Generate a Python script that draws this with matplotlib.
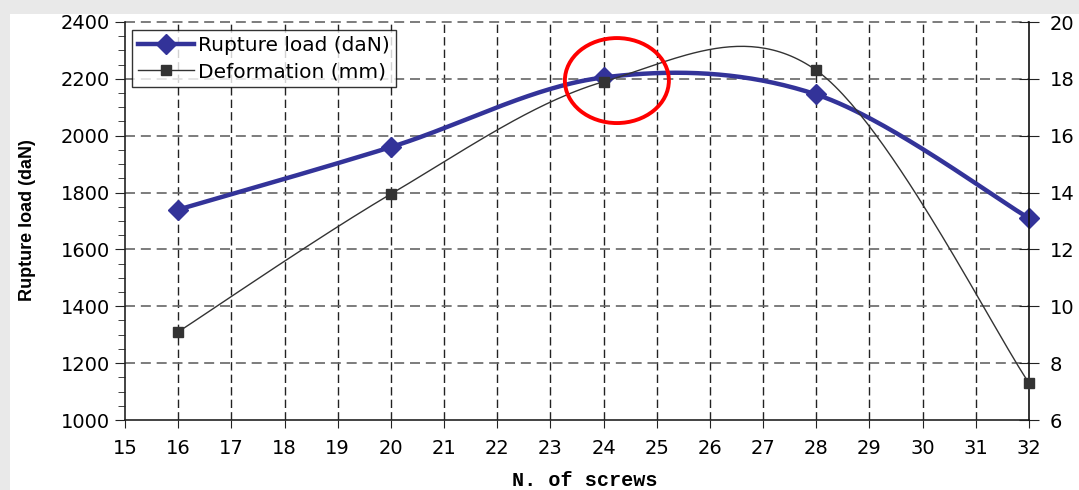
import numpy as np
import matplotlib
matplotlib.use("Agg")
import matplotlib.pyplot as plt
from matplotlib.patches import Ellipse, Rectangle
from matplotlib.ticker import MultipleLocator

# ---- data ----
screws = [16, 20, 24, 28, 32]
rupture_load = [1740, 1960, 2205, 2145, 1710]      # daN (left axis)
deformation = [9.1, 13.95, 17.9, 18.3, 7.3]        # mm (right axis)
x_ticks = list(range(15, 33))
left_ticks = list(range(1000, 2401, 200))
right_ticks = list(range(6, 21, 2))
label_load = "Rupture load (daN)"
label_def = "Deformation (mm)"
x_label = "N. of screws"
y_label = "Rupture load (daN)"


def excel_smooth(xs, ys, n=60):
    """Bezier smoothing similar to spreadsheet 'smoothed line'."""
    xs = np.asarray(xs, float)
    ys = np.asarray(ys, float)
    P = np.column_stack([xs, ys])
    out = [P[0]]
    m = len(P)
    for i in range(m - 1):
        p0 = P[i]
        p3 = P[i + 1]
        pm = P[i - 1] if i > 0 else P[i]
        pp = P[i + 2] if i + 2 < m else P[i + 1]
        c1 = p0 + (p3 - pm) / 6.0
        c2 = p3 - (pp - p0) / 6.0
        t = np.linspace(0, 1, n)[1:, None]
        seg = ((1 - t) ** 3) * p0 + 3 * ((1 - t) ** 2) * t * c1 + 3 * (1 - t) * t ** 2 * c2 + t ** 3 * p3
        out.extend(seg)
    out = np.array(out)
    return out[:, 0], out[:, 1]


W, H = 1079, 490
fig = plt.figure(figsize=(W / 100, H / 100), dpi=100)
fig.patch.set_facecolor("#e9e9e9")
bg = Rectangle((10 / W, 0), 1, 1 - 14 / H, transform=fig.transFigure,
               facecolor="white", edgecolor="none", zorder=-10)
fig.patches.append(bg)

l, r, b, t = 125, 1029, 420, 22
ax = fig.add_axes([l / W, 1 - b / H, (r - l) / W, (b - t) / H])
ax.set_zorder(1)
ax.set_facecolor("white")
ax.set_xlim(15, 32)
ax.set_ylim(1000, 2400)
ax.set_xticks(x_ticks)
ax.set_yticks(left_ticks)
ax.yaxis.set_minor_locator(MultipleLocator(50))

# grid
for xv in x_ticks[1:-1]:
    ax.axvline(xv, color="#222222", lw=1.0, ls=(0, (6, 3)), zorder=1)
for yv in left_ticks[1:]:
    ax.axhline(yv, color="#666666", lw=1.2, ls=(0, (6, 3.5)), zorder=1, clip_on=False)

blue = "#333399"
sx, sy = excel_smooth(screws, rupture_load)
ax.plot(sx, sy, color=blue, lw=3.2, zorder=3, solid_capstyle="round")
ax.plot(screws, rupture_load, ls="none", marker="D", ms=10, color=blue, zorder=4, clip_on=False)

for s in ["top", "right"]:
    ax.spines[s].set_visible(False)
for s in ["left", "bottom"]:
    ax.spines[s].set_color("#222222")
    ax.spines[s].set_linewidth(1.2)

ax.tick_params(axis="both", which="major", labelsize=14, direction="out", color="#222222")
ax.tick_params(axis="y", which="major", length=7, pad=4)
ax.tick_params(axis="y", which="minor", length=5, color="#222222")
ax.tick_params(axis="x", which="major", length=6, pad=8)

ax.set_ylabel(y_label, fontsize=13, fontweight="bold", family="Liberation Sans", va="center")
ax.yaxis.set_label_coords((28 - l) / (r - l), (b - 220) / (b - t))
ax.set_xlabel(x_label, fontsize=14.5, fontweight="bold", family="Liberation Mono", va="center")
ax.xaxis.set_label_coords((585 - l) / (r - l), (b - 480) / (b - t))

ax2 = ax.twinx()
ax2.set_zorder(2)
ax2.patch.set_visible(False)
ax2.set_ylim(6, 20)
ax2.set_yticks(right_ticks)
for s in ["top", "left", "bottom"]:
    ax2.spines[s].set_visible(False)
ax2.spines["right"].set_color("#111111")
ax2.spines["right"].set_linewidth(1.2)
ax2.tick_params(axis="y", labelsize=14, direction="inout", length=14, pad=8, color="#222222")

dx, dy = excel_smooth(screws, deformation)
ax2.plot(dx, dy, color="#333333", lw=1.0, zorder=3)
ax2.plot(screws, deformation, ls="none", marker="s", ms=6.5, color="#333333", zorder=4, clip_on=False)

# red highlight ellipse (in left-axis data coords)
ell = Ellipse((24.25, 2194), 1.956, 299, transform=ax.transData, fill=False,
              edgecolor="#ff0000", lw=2.8, zorder=6)
ax2.add_patch(ell)

h1 = plt.Line2D([], [], color=blue, lw=3.2, marker="D", ms=10)
h2 = plt.Line2D([], [], color="#333333", lw=1.0, marker="s", ms=6.5)
leg = ax2.legend([h1, h2], [label_load, label_def], loc="upper left",
                 bbox_to_anchor=((132 - l) / (r - l), (b - 30) / (b - t)), borderaxespad=0,
                 fontsize=14.5, frameon=True, fancybox=False, edgecolor="black",
                 handlelength=2.8, handletextpad=0.2, labelspacing=0.35, borderpad=0.3)
leg.get_frame().set_linewidth(1.0)
leg.set_zorder(10)

fig.savefig("out.png", dpi=100, facecolor=fig.get_facecolor())
